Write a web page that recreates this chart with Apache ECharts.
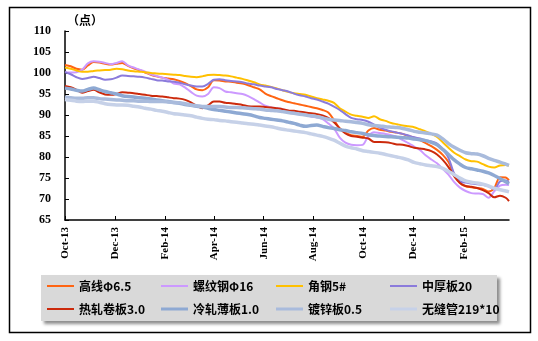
<!DOCTYPE html>
<html><head><meta charset="utf-8">
<script src="https://cdn.jsdelivr.net/npm/echarts@6/dist/echarts.min.js"></script>
<style>html,body{margin:0;padding:0;background:#fff}#c{width:538px;height:341px}</style>
</head><body><div id="c"></div>
<script>
// x axis: dates (weekly observations) and tick labels
const startDate = '2013-10-01';
const lastDate = '2015-03-28';
const tickDates = ['2013-10-01','2013-12-01','2014-02-01','2014-04-01','2014-06-01','2014-08-01','2014-10-01','2014-12-01','2015-02-01'];
const tickLabels = ['Oct-13','Dec-13','Feb-14','Apr-14','Jun-14','Aug-14','Oct-14','Dec-14','Feb-15'];
const dates = [];
for (let i = 0; i < 78; i++) {
  const d = new Date(Date.UTC(2013, 9, 1 + 7 * i));
  dates.push(d.toISOString().slice(0, 10));
}
dates.push(lastDate);

const names = ['高线Φ6.5','螺纹钢Φ16','角钢5#','中厚板20','热轧卷板3.0','冷轧薄板1.0','镀锌板0.5','无缝管219*10'];

const gaoxian = [101.9,101.6,101.0,100.8,101.8,102.6,102.5,102.2,102.0,102.2,
102.4,101.7,101.1,100.7,100.1,99.6,99.2,98.9,98.7,98.5,
98.1,97.6,96.9,96.1,95.9,96.6,98.3,98.2,98.0,97.9,
97.7,97.5,97.1,96.6,96.1,95.1,94.5,94.0,93.5,93.1,
92.8,92.5,92.2,91.9,91.6,91.2,90.6,88.8,86.8,85.8,
85.2,85.0,84.8,86.3,86.9,86.5,86.3,86.0,85.8,85.5,
85.0,84.6,84.0,83.3,82.6,81.7,80.5,78.8,75.8,73.8,
73.0,72.8,72.6,72.4,71.8,72.6,75.2,75.1,74.5];
const luowen = [100.2,100.1,100.2,100.8,102.3,102.8,102.7,102.4,102.1,102.4,
102.8,101.8,101.3,100.8,100.3,99.7,99.3,98.9,98.4,97.5,
97.3,96.5,95.5,94.6,94.4,95.0,96.6,96.4,95.6,95.4,
95.2,95.0,94.5,93.8,93.0,92.2,91.8,91.6,91.4,91.0,
90.6,90.2,90.0,89.6,89.4,89.0,88.0,86.8,84.6,83.4,
82.9,82.8,82.9,85.0,85.9,85.7,85.5,85.2,84.8,84.0,
83.3,82.5,81.7,80.4,79.4,78.5,77.2,75.8,74.0,72.7,
71.9,71.4,71.3,71.2,70.3,71.8,73.2,73.4,73.3];
const jiaogang = [101.3,101.0,100.6,100.3,100.3,100.5,100.6,100.7,100.8,101.0,
100.9,100.6,100.4,100.3,100.2,100.0,99.9,99.8,99.7,99.6,
99.5,99.3,99.1,99.0,99.2,99.5,99.6,99.5,99.4,99.2,
98.9,98.6,98.2,97.8,97.3,97.0,96.7,96.3,95.9,95.5,
95.2,95.0,94.8,94.4,94.0,93.7,93.4,92.9,91.6,90.8,
90.1,89.8,89.6,89.3,89.7,89.0,88.6,88.1,87.8,87.5,
87.3,87.1,86.6,86.1,85.5,84.8,83.5,82.2,81.0,80.2,
79.4,79.0,78.9,78.3,77.7,77.5,78.0,78.1,78.0];
const zhonghouban = [100.2,99.7,99.0,98.6,98.8,99.1,98.8,98.4,98.5,98.9,
99.4,99.3,99.2,99.1,98.9,98.6,98.3,98.2,98.0,97.9,
97.7,97.3,97.0,96.8,96.8,97.4,98.4,98.5,98.3,98.1,
98.0,97.8,97.5,97.3,97.0,96.8,96.6,96.2,95.9,95.6,
95.1,94.7,94.4,94.0,93.7,93.2,92.7,92.0,91.2,90.2,
89.3,89.0,88.8,88.4,87.7,87.0,86.5,86.1,85.8,85.5,
85.1,84.7,84.4,84.0,83.7,83.2,81.8,79.8,76.0,74.2,
73.9,73.7,73.5,73.4,73.0,72.3,74.2,74.4,74.1];
const rezha = [96.9,96.6,96.0,95.3,95.7,96.0,95.4,94.9,94.8,95.0,
95.4,95.3,95.2,95.0,94.8,94.6,94.5,94.4,94.2,94.0,
93.9,93.6,93.0,92.2,91.6,92.3,93.2,93.2,92.9,92.8,
92.6,92.4,92.1,92.0,92.0,91.9,91.8,91.6,91.4,91.1,
91.0,90.8,90.6,90.4,90.2,89.9,89.3,88.3,86.8,85.6,
85.0,84.8,84.6,84.4,83.6,83.6,83.5,83.3,83.0,82.9,
82.6,82.2,82.0,81.8,81.4,80.6,79.3,77.6,75.4,73.8,
73.1,72.9,72.6,72.1,71.4,70.4,70.8,70.3,69.5];
const lengzha = [96.4,96.2,95.9,95.7,96.1,96.4,96.0,95.6,95.3,95.0,
94.6,94.4,94.3,94.1,94.0,93.8,93.6,93.4,93.2,93.0,
92.8,92.5,92.3,92.1,91.9,91.6,91.3,91.1,90.9,90.7,
90.5,90.3,90.1,89.8,89.4,89.2,89.0,88.8,88.6,88.3,
88.0,87.6,87.3,87.5,87.6,87.3,87.0,86.8,86.5,86.3,
86.0,85.8,85.6,85.3,85.1,85.0,84.9,84.8,84.7,84.6,
84.5,84.3,84.1,83.9,83.5,82.9,81.8,80.6,79.3,78.3,
77.5,77.2,76.9,76.6,76.2,75.6,74.9,74.1,73.6];
const duxin = [94.2,94.1,94.0,94.0,94.1,94.1,93.9,93.8,93.7,93.6,
93.5,93.4,93.4,93.3,93.3,93.2,93.2,93.2,93.1,93.0,
92.9,92.7,92.4,92.2,92.0,92.0,92.0,92.0,91.9,91.8,
91.8,91.7,91.6,91.5,91.4,91.2,91.1,91.0,90.8,90.6,
90.4,90.2,90.0,89.8,89.6,89.3,89.0,88.8,88.7,88.5,
88.4,88.2,88.0,87.7,87.5,87.4,87.2,87.1,87.0,86.8,
86.5,86.1,85.9,85.7,85.5,85.2,84.3,83.2,82.3,81.6,
81.0,80.8,80.7,80.3,79.7,79.2,78.8,78.3,78.0];
const wufengguan = [93.7,93.5,93.3,93.2,93.3,93.3,93.0,92.7,92.5,92.4,
92.4,92.3,92.1,91.9,91.6,91.4,91.1,90.9,90.6,90.3,
90.2,90.0,89.8,89.5,89.2,89.0,88.9,88.7,88.6,88.4,
88.3,88.1,87.9,87.8,87.6,87.4,87.2,86.9,86.6,86.4,
86.2,86.0,85.8,85.5,85.2,84.9,84.5,84.0,83.3,82.6,
82.2,81.9,81.5,81.3,81.1,80.9,80.6,80.3,80.0,79.7,
79.3,78.7,78.4,78.1,77.9,77.7,77.3,76.6,75.8,75.0,
74.3,74.0,73.8,73.5,73.1,72.6,72.2,71.9,71.7];

const allValues = [gaoxian, luowen, jiaogang, zhonghouban, rezha, lengzha, duxin, wufengguan];
const colors = ['#FF6412','#CC99FF','#FFC000','#8B7BDB','#CC2A0C','#8EA9D3','#A9BBDC','#C6D1E8'];
const widths = [2, 2, 2, 2, 2, 3.5, 3.5, 3.5];

const DAY = 86400000;
const t0 = Date.parse(startDate);
const dayOf = s => Math.round((Date.parse(s) - t0) / DAY);
const xDays = dates.map(dayOf);
const tickDays = tickDates.map(dayOf);
const maxDay = dayOf(lastDate);

const cjk = '"Noto Sans CJK SC", sans-serif';
const serif = '"Liberation Serif", "DejaVu Serif", serif';

const series = names.map((n, k) => ({
  name: n, type: 'line', showSymbol: false, symbol: 'none', smooth: 0.3,
  data: xDays.map((d, i) => [d, allValues[k][i]]),
  lineStyle: { color: colors[k], width: widths[k] },
  itemStyle: { color: colors[k] },
  emphasis: { disabled: true }, animation: false
}));

const legendLeft = [47, 161, 276, 390];
const legendTop = [280, 303];
const legends = names.map((n, k) => ({
  data: [n], left: legendLeft[k % 4], top: legendTop[Math.floor(k / 4)],
  icon: 'rect', itemWidth: 27, itemHeight: widths[k] > 2 ? 3 : 2,
  itemStyle: { color: colors[k] },
  textStyle: { fontFamily: cjk, fontSize: 12, fontWeight: 'bold', color: '#000' },
  selectedMode: false, padding: 0
}));

const chart = echarts.init(document.getElementById('c'), null, { renderer: 'canvas' });
chart.setOption({
  animation: false,
  backgroundColor: '#fff',
  grid: { left: 65, right: 29, top: 31, bottom: 121, containLabel: false },
  xAxis: {
    type: 'value', min: 0, max: maxDay,
    axisLine: { show: true, lineStyle: { color: '#000', width: 1.5 } },
    axisTick: { show: true, inside: true, length: 4, lineStyle: { color: '#000' }, customValues: tickDays },
    axisLabel: {
      customValues: tickDays, rotate: 90, margin: 7,
      formatter: v => { const i = tickDays.indexOf(v); return i >= 0 ? tickLabels[i] : ''; },
      fontFamily: serif, fontSize: 11, fontWeight: 'bold', color: '#000'
    },
    splitLine: { show: false }
  },
  yAxis: {
    type: 'value', min: 65, max: 110, interval: 5,
    axisLine: { show: true, lineStyle: { color: '#000', width: 1.5 } },
    axisTick: { show: true, inside: true, length: 4, lineStyle: { color: '#000' } },
    axisLabel: { margin: 14, fontFamily: serif, fontSize: 12, fontWeight: 'bold', color: '#000' },
    splitLine: { show: false }
  },
  legend: legends,
  graphic: [
    { type: 'rect', z: -10, shape: { x: 9.5, y: 7.5, width: 521, height: 325 },
      style: { fill: '#fff', stroke: '#000', lineWidth: 1.5 } },
    { type: 'rect', z: -5, shape: { x: 41, y: 275, width: 456, height: 46 },
      style: { fill: '#D9D9D9', shadowColor: 'rgba(0,0,0,0.45)', shadowBlur: 3, shadowOffsetX: 3, shadowOffsetY: 3 } },
    { type: 'text', left: 67, top: 14, z: 10,
      style: { text: '（点）', fontFamily: cjk, fontSize: 12, fontWeight: 'bold', fill: '#000' } }
  ],
  series: series
});
</script></body></html>
